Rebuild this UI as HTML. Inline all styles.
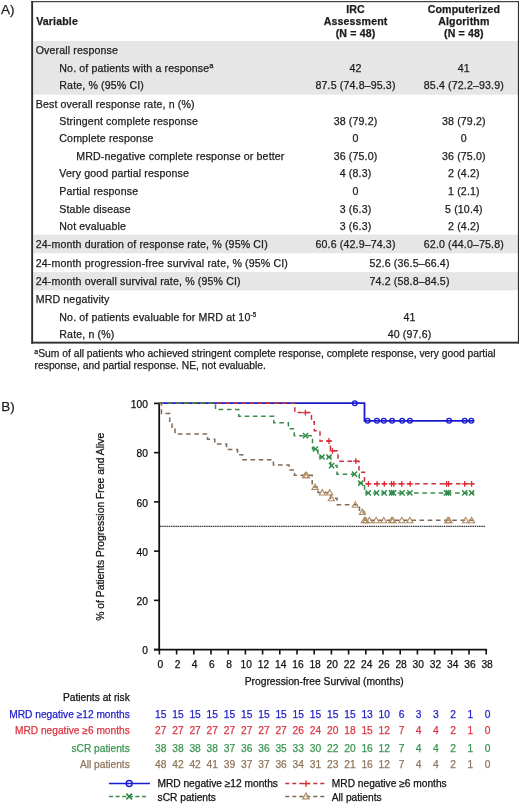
<!DOCTYPE html>
<html><head><meta charset="utf-8"><style>
html,body{margin:0;padding:0;background:#fff;}
body{width:520px;height:804px;overflow:hidden;}
svg{display:block;font-family:"Liberation Sans", sans-serif;will-change:transform;filter:blur(0.3px);}
text{stroke:currentColor;stroke-width:0.25px;}
</style></head><body>
<svg width="520" height="804" viewBox="0 0 520 804">
<rect width="520" height="804" fill="#fff"/>
<text x="0.9" y="13.9" font-size="13.5" text-anchor="start" fill="#1c1c1c" style="color:#1c1c1c">A)</text>
<rect x="33.4" y="41.0" width="484.6" height="53.70" fill="#e6e6e6"/>
<rect x="33.4" y="234.6" width="484.6" height="18.70" fill="#e6e6e6"/>
<rect x="33.4" y="272.1" width="484.6" height="18.30" fill="#e6e6e6"/>
<rect x="31.2" y="1.1" width="487.7" height="1.1" fill="#2e2e2e"/>
<rect x="517.9" y="1.1" width="1.1" height="342.5" fill="#2e2e2e"/>
<rect x="31.2" y="1.1" width="1.9" height="342.5" fill="#2e2e2e"/>
<rect x="31.2" y="341.7" width="487.7" height="1.9" fill="#2e2e2e"/>
<text x="36.2" y="24.9" font-size="10.6" text-anchor="start" fill="#1c1c1c" style="color:#1c1c1c" font-weight="bold" letter-spacing="0.145">Variable</text>
<text x="355.57" y="12.6" font-size="10.6" text-anchor="middle" fill="#1c1c1c" style="color:#1c1c1c" font-weight="bold" letter-spacing="0.145">IRC</text>
<text x="355.57" y="24.799999999999997" font-size="10.6" text-anchor="middle" fill="#1c1c1c" style="color:#1c1c1c" font-weight="bold" letter-spacing="0.145">Assessment</text>
<text x="355.57" y="37.0" font-size="10.6" text-anchor="middle" fill="#1c1c1c" style="color:#1c1c1c" font-weight="bold" letter-spacing="0.145">(N = 48)</text>
<text x="463.87" y="12.6" font-size="10.6" text-anchor="middle" fill="#1c1c1c" style="color:#1c1c1c" font-weight="bold" letter-spacing="0.145">Computerized</text>
<text x="463.87" y="24.799999999999997" font-size="10.6" text-anchor="middle" fill="#1c1c1c" style="color:#1c1c1c" font-weight="bold" letter-spacing="0.145">Algorithm</text>
<text x="463.87" y="37.0" font-size="10.6" text-anchor="middle" fill="#1c1c1c" style="color:#1c1c1c" font-weight="bold" letter-spacing="0.145">(N = 48)</text>
<text x="35.7" y="53.9" font-size="10.6" text-anchor="start" fill="#1c1c1c" style="color:#1c1c1c" letter-spacing="0.145">Overall response</text>
<text x="59.3" y="71.5" font-size="10.6" text-anchor="start" fill="#1c1c1c" style="color:#1c1c1c" letter-spacing="0.145">No. of patients with a response<tspan font-size="7.5" dy="-3.2">a</tspan></text>
<text x="355.57" y="71.5" font-size="10.6" text-anchor="middle" fill="#1c1c1c" style="color:#1c1c1c" letter-spacing="0.145">42</text>
<text x="463.87" y="71.5" font-size="10.6" text-anchor="middle" fill="#1c1c1c" style="color:#1c1c1c" letter-spacing="0.145">41</text>
<text x="59.3" y="89.2" font-size="10.6" text-anchor="start" fill="#1c1c1c" style="color:#1c1c1c" letter-spacing="0.145">Rate, % (95% CI)</text>
<text x="355.57" y="89.2" font-size="10.6" text-anchor="middle" fill="#1c1c1c" style="color:#1c1c1c" letter-spacing="0.145">87.5 (74.8–95.3)</text>
<text x="463.87" y="89.2" font-size="10.6" text-anchor="middle" fill="#1c1c1c" style="color:#1c1c1c" letter-spacing="0.145">85.4 (72.2–93.9)</text>
<text x="35.7" y="107.5" font-size="10.6" text-anchor="start" fill="#1c1c1c" style="color:#1c1c1c" letter-spacing="0.145">Best overall response rate, n (%)</text>
<text x="59.3" y="124.9" font-size="10.6" text-anchor="start" fill="#1c1c1c" style="color:#1c1c1c" letter-spacing="0.145">Stringent complete response</text>
<text x="355.57" y="124.9" font-size="10.6" text-anchor="middle" fill="#1c1c1c" style="color:#1c1c1c" letter-spacing="0.145">38 (79.2)</text>
<text x="463.87" y="124.9" font-size="10.6" text-anchor="middle" fill="#1c1c1c" style="color:#1c1c1c" letter-spacing="0.145">38 (79.2)</text>
<text x="59.3" y="142.3" font-size="10.6" text-anchor="start" fill="#1c1c1c" style="color:#1c1c1c" letter-spacing="0.145">Complete response</text>
<text x="355.57" y="142.3" font-size="10.6" text-anchor="middle" fill="#1c1c1c" style="color:#1c1c1c" letter-spacing="0.145">0</text>
<text x="463.87" y="142.3" font-size="10.6" text-anchor="middle" fill="#1c1c1c" style="color:#1c1c1c" letter-spacing="0.145">0</text>
<text x="76.2" y="159.9" font-size="10.6" text-anchor="start" fill="#1c1c1c" style="color:#1c1c1c" letter-spacing="0.145">MRD-negative complete response or better</text>
<text x="355.57" y="159.9" font-size="10.6" text-anchor="middle" fill="#1c1c1c" style="color:#1c1c1c" letter-spacing="0.145">36 (75.0)</text>
<text x="463.87" y="159.9" font-size="10.6" text-anchor="middle" fill="#1c1c1c" style="color:#1c1c1c" letter-spacing="0.145">36 (75.0)</text>
<text x="59.3" y="177.3" font-size="10.6" text-anchor="start" fill="#1c1c1c" style="color:#1c1c1c" letter-spacing="0.145">Very good partial response</text>
<text x="355.57" y="177.3" font-size="10.6" text-anchor="middle" fill="#1c1c1c" style="color:#1c1c1c" letter-spacing="0.145">4 (8.3)</text>
<text x="463.87" y="177.3" font-size="10.6" text-anchor="middle" fill="#1c1c1c" style="color:#1c1c1c" letter-spacing="0.145">2 (4.2)</text>
<text x="59.3" y="194.9" font-size="10.6" text-anchor="start" fill="#1c1c1c" style="color:#1c1c1c" letter-spacing="0.145">Partial response</text>
<text x="355.57" y="194.9" font-size="10.6" text-anchor="middle" fill="#1c1c1c" style="color:#1c1c1c" letter-spacing="0.145">0</text>
<text x="463.87" y="194.9" font-size="10.6" text-anchor="middle" fill="#1c1c1c" style="color:#1c1c1c" letter-spacing="0.145">1 (2.1)</text>
<text x="59.3" y="212.5" font-size="10.6" text-anchor="start" fill="#1c1c1c" style="color:#1c1c1c" letter-spacing="0.145">Stable disease</text>
<text x="355.57" y="212.5" font-size="10.6" text-anchor="middle" fill="#1c1c1c" style="color:#1c1c1c" letter-spacing="0.145">3 (6.3)</text>
<text x="463.87" y="212.5" font-size="10.6" text-anchor="middle" fill="#1c1c1c" style="color:#1c1c1c" letter-spacing="0.145">5 (10.4)</text>
<text x="59.3" y="230.0" font-size="10.6" text-anchor="start" fill="#1c1c1c" style="color:#1c1c1c" letter-spacing="0.145">Not evaluable</text>
<text x="355.57" y="230.0" font-size="10.6" text-anchor="middle" fill="#1c1c1c" style="color:#1c1c1c" letter-spacing="0.145">3 (6.3)</text>
<text x="463.87" y="230.0" font-size="10.6" text-anchor="middle" fill="#1c1c1c" style="color:#1c1c1c" letter-spacing="0.145">2 (4.2)</text>
<text x="35.7" y="248.2" font-size="10.6" text-anchor="start" fill="#1c1c1c" style="color:#1c1c1c" letter-spacing="0.145">24-month duration of response rate, % (95% CI)</text>
<text x="355.57" y="248.2" font-size="10.6" text-anchor="middle" fill="#1c1c1c" style="color:#1c1c1c" letter-spacing="0.145">60.6 (42.9–74.3)</text>
<text x="463.87" y="248.2" font-size="10.6" text-anchor="middle" fill="#1c1c1c" style="color:#1c1c1c" letter-spacing="0.145">62.0 (44.0–75.8)</text>
<text x="35.7" y="266.5" font-size="10.6" text-anchor="start" fill="#1c1c1c" style="color:#1c1c1c" letter-spacing="0.145">24-month progression-free survival rate, % (95% CI)</text>
<text x="409.57" y="266.5" font-size="10.6" text-anchor="middle" fill="#1c1c1c" style="color:#1c1c1c" letter-spacing="0.145">52.6 (36.5–66.4)</text>
<text x="35.7" y="284.8" font-size="10.6" text-anchor="start" fill="#1c1c1c" style="color:#1c1c1c" letter-spacing="0.145">24-month overall survival rate, % (95% CI)</text>
<text x="409.57" y="284.8" font-size="10.6" text-anchor="middle" fill="#1c1c1c" style="color:#1c1c1c" letter-spacing="0.145">74.2 (58.8–84.5)</text>
<text x="35.7" y="303.1" font-size="10.6" text-anchor="start" fill="#1c1c1c" style="color:#1c1c1c" letter-spacing="0.145">MRD negativity</text>
<text x="59.3" y="320.8" font-size="10.6" text-anchor="start" fill="#1c1c1c" style="color:#1c1c1c" letter-spacing="0.145">No. of patients evaluable for MRD at 10<tspan font-size="6.3" dy="-4.3">-5</tspan></text>
<text x="409.57" y="320.8" font-size="10.6" text-anchor="middle" fill="#1c1c1c" style="color:#1c1c1c" letter-spacing="0.145">41</text>
<text x="59.3" y="338.3" font-size="10.6" text-anchor="start" fill="#1c1c1c" style="color:#1c1c1c" letter-spacing="0.145">Rate, n (%)</text>
<text x="409.57" y="338.3" font-size="10.6" text-anchor="middle" fill="#1c1c1c" style="color:#1c1c1c" letter-spacing="0.145">40 (97.6)</text>
<text x="34.3" y="357.0" font-size="10.31" text-anchor="start" fill="#1c1c1c" style="color:#1c1c1c"><tspan font-size="7" dy="-3">a</tspan><tspan dy="3">Sum of all patients who achieved stringent complete response, complete response, very good partial</tspan></text>
<text x="34.6" y="368.8" font-size="10.31" text-anchor="start" fill="#1c1c1c" style="color:#1c1c1c">response, and partial response. NE, not evaluable.</text>
<text x="1.3" y="411.4" font-size="13.5" text-anchor="start" fill="#1c1c1c" style="color:#1c1c1c">B)</text>
<line x1="159.2" y1="402.60" x2="159.2" y2="650.50" stroke="#111" stroke-width="1.8"/>
<line x1="154" y1="649.6" x2="487.10" y2="649.6" stroke="#111" stroke-width="1.8"/>
<line x1="154" y1="649.60" x2="159.5" y2="649.60" stroke="#111" stroke-width="1.6"/>
<text x="147.9" y="654.30" font-size="10.21" text-anchor="end" fill="#111" style="color:#111">0</text>
<line x1="154" y1="600.36" x2="159.5" y2="600.36" stroke="#111" stroke-width="1.6"/>
<text x="147.9" y="605.06" font-size="10.21" text-anchor="end" fill="#111" style="color:#111">20</text>
<line x1="154" y1="551.12" x2="159.5" y2="551.12" stroke="#111" stroke-width="1.6"/>
<text x="147.9" y="555.82" font-size="10.21" text-anchor="end" fill="#111" style="color:#111">40</text>
<line x1="154" y1="501.88" x2="159.5" y2="501.88" stroke="#111" stroke-width="1.6"/>
<text x="147.9" y="506.58" font-size="10.21" text-anchor="end" fill="#111" style="color:#111">60</text>
<line x1="154" y1="452.64" x2="159.5" y2="452.64" stroke="#111" stroke-width="1.6"/>
<text x="147.9" y="457.34" font-size="10.21" text-anchor="end" fill="#111" style="color:#111">80</text>
<line x1="154" y1="403.40" x2="159.5" y2="403.40" stroke="#111" stroke-width="1.6"/>
<text x="147.9" y="408.10" font-size="10.21" text-anchor="end" fill="#111" style="color:#111">100</text>
<line x1="159.40" y1="649.6" x2="159.40" y2="654.5" stroke="#111" stroke-width="1.6"/>
<text x="160.30" y="667.7" font-size="10.21" text-anchor="middle" fill="#111" style="color:#111">0</text>
<line x1="176.60" y1="649.6" x2="176.60" y2="654.5" stroke="#111" stroke-width="1.6"/>
<text x="177.50" y="667.7" font-size="10.21" text-anchor="middle" fill="#111" style="color:#111">2</text>
<line x1="193.80" y1="649.6" x2="193.80" y2="654.5" stroke="#111" stroke-width="1.6"/>
<text x="194.70" y="667.7" font-size="10.21" text-anchor="middle" fill="#111" style="color:#111">4</text>
<line x1="211.00" y1="649.6" x2="211.00" y2="654.5" stroke="#111" stroke-width="1.6"/>
<text x="211.90" y="667.7" font-size="10.21" text-anchor="middle" fill="#111" style="color:#111">6</text>
<line x1="228.20" y1="649.6" x2="228.20" y2="654.5" stroke="#111" stroke-width="1.6"/>
<text x="229.10" y="667.7" font-size="10.21" text-anchor="middle" fill="#111" style="color:#111">8</text>
<line x1="245.40" y1="649.6" x2="245.40" y2="654.5" stroke="#111" stroke-width="1.6"/>
<text x="246.30" y="667.7" font-size="10.21" text-anchor="middle" fill="#111" style="color:#111">10</text>
<line x1="262.60" y1="649.6" x2="262.60" y2="654.5" stroke="#111" stroke-width="1.6"/>
<text x="263.50" y="667.7" font-size="10.21" text-anchor="middle" fill="#111" style="color:#111">12</text>
<line x1="279.80" y1="649.6" x2="279.80" y2="654.5" stroke="#111" stroke-width="1.6"/>
<text x="280.70" y="667.7" font-size="10.21" text-anchor="middle" fill="#111" style="color:#111">14</text>
<line x1="297.00" y1="649.6" x2="297.00" y2="654.5" stroke="#111" stroke-width="1.6"/>
<text x="297.90" y="667.7" font-size="10.21" text-anchor="middle" fill="#111" style="color:#111">16</text>
<line x1="314.20" y1="649.6" x2="314.20" y2="654.5" stroke="#111" stroke-width="1.6"/>
<text x="315.10" y="667.7" font-size="10.21" text-anchor="middle" fill="#111" style="color:#111">18</text>
<line x1="331.40" y1="649.6" x2="331.40" y2="654.5" stroke="#111" stroke-width="1.6"/>
<text x="332.30" y="667.7" font-size="10.21" text-anchor="middle" fill="#111" style="color:#111">20</text>
<line x1="348.60" y1="649.6" x2="348.60" y2="654.5" stroke="#111" stroke-width="1.6"/>
<text x="349.50" y="667.7" font-size="10.21" text-anchor="middle" fill="#111" style="color:#111">22</text>
<line x1="365.80" y1="649.6" x2="365.80" y2="654.5" stroke="#111" stroke-width="1.6"/>
<text x="366.70" y="667.7" font-size="10.21" text-anchor="middle" fill="#111" style="color:#111">24</text>
<line x1="383.00" y1="649.6" x2="383.00" y2="654.5" stroke="#111" stroke-width="1.6"/>
<text x="383.90" y="667.7" font-size="10.21" text-anchor="middle" fill="#111" style="color:#111">26</text>
<line x1="400.20" y1="649.6" x2="400.20" y2="654.5" stroke="#111" stroke-width="1.6"/>
<text x="401.10" y="667.7" font-size="10.21" text-anchor="middle" fill="#111" style="color:#111">28</text>
<line x1="417.40" y1="649.6" x2="417.40" y2="654.5" stroke="#111" stroke-width="1.6"/>
<text x="418.30" y="667.7" font-size="10.21" text-anchor="middle" fill="#111" style="color:#111">30</text>
<line x1="434.60" y1="649.6" x2="434.60" y2="654.5" stroke="#111" stroke-width="1.6"/>
<text x="435.50" y="667.7" font-size="10.21" text-anchor="middle" fill="#111" style="color:#111">32</text>
<line x1="451.80" y1="649.6" x2="451.80" y2="654.5" stroke="#111" stroke-width="1.6"/>
<text x="452.70" y="667.7" font-size="10.21" text-anchor="middle" fill="#111" style="color:#111">34</text>
<line x1="469.00" y1="649.6" x2="469.00" y2="654.5" stroke="#111" stroke-width="1.6"/>
<text x="469.90" y="667.7" font-size="10.21" text-anchor="middle" fill="#111" style="color:#111">36</text>
<line x1="486.20" y1="649.6" x2="486.20" y2="654.5" stroke="#111" stroke-width="1.6"/>
<text x="487.10" y="667.7" font-size="10.21" text-anchor="middle" fill="#111" style="color:#111">38</text>
<text x="324.2" y="685.4" font-size="10.3" text-anchor="middle" fill="#111" style="color:#111">Progression-free Survival (months)</text>
<text x="0.15" y="0" font-size="10.35" text-anchor="middle" fill="#111" style="color:#111" transform="translate(104.3 527) rotate(-90)">% of Patients Progression Free and Alive</text>
<line x1="160" y1="526.3" x2="485.6" y2="526.3" stroke="#111" stroke-width="1" stroke-dasharray="1.6 0.6"/>
<path d="M159.4,403.2H364.5V420.8H474.2" fill="none" stroke="#1a1ad0" stroke-width="1.8"/>
<circle cx="354.8" cy="403.2" r="2.4" fill="none" stroke="#1a1ad0" stroke-width="1.3"/>
<circle cx="367.6" cy="420.8" r="2.4" fill="none" stroke="#1a1ad0" stroke-width="1.3"/>
<circle cx="377" cy="420.8" r="2.4" fill="none" stroke="#1a1ad0" stroke-width="1.3"/>
<circle cx="383.8" cy="420.8" r="2.4" fill="none" stroke="#1a1ad0" stroke-width="1.3"/>
<circle cx="392.1" cy="420.8" r="2.4" fill="none" stroke="#1a1ad0" stroke-width="1.3"/>
<circle cx="402.2" cy="420.8" r="2.4" fill="none" stroke="#1a1ad0" stroke-width="1.3"/>
<circle cx="409.9" cy="420.8" r="2.4" fill="none" stroke="#1a1ad0" stroke-width="1.3"/>
<circle cx="449.1" cy="420.8" r="2.4" fill="none" stroke="#1a1ad0" stroke-width="1.3"/>
<circle cx="464.7" cy="420.8" r="2.4" fill="none" stroke="#1a1ad0" stroke-width="1.3"/>
<circle cx="471.3" cy="420.8" r="2.4" fill="none" stroke="#1a1ad0" stroke-width="1.3"/>
<path d="M159.4,403.2H294.8V412.6H311.5V421.7H314.3V430.8H320V441H330.4V450.8H338V461.2H359V472.2H364.5V483.8H474.2" fill="none" stroke="#c8303c" stroke-width="1.5" stroke-dasharray="4.6 3.6"/>
<path d="M302.50,412.6H308.30M305.4,409.70V415.50" stroke="#e02834" stroke-width="1.3"/>
<path d="M326.10,441H331.90M329,438.10V443.90" stroke="#e02834" stroke-width="1.3"/>
<path d="M329.50,450.8H335.30M332.4,447.90V453.70" stroke="#e02834" stroke-width="1.3"/>
<path d="M352.90,461.2H358.70M355.8,458.30V464.10" stroke="#e02834" stroke-width="1.3"/>
<path d="M365.50,483.8H371.30M368.4,480.90V486.70" stroke="#e02834" stroke-width="1.3"/>
<path d="M374.20,483.8H380.00M377.1,480.90V486.70" stroke="#e02834" stroke-width="1.3"/>
<path d="M381.40,483.8H387.20M384.3,480.90V486.70" stroke="#e02834" stroke-width="1.3"/>
<path d="M388.60,483.8H394.40M391.5,480.90V486.70" stroke="#e02834" stroke-width="1.3"/>
<path d="M390.90,483.8H396.70M393.8,480.90V486.70" stroke="#e02834" stroke-width="1.3"/>
<path d="M398.90,483.8H404.70M401.8,480.90V486.70" stroke="#e02834" stroke-width="1.3"/>
<path d="M407.30,483.8H413.10M410.2,480.90V486.70" stroke="#e02834" stroke-width="1.3"/>
<path d="M443.60,483.8H449.40M446.5,480.90V486.70" stroke="#e02834" stroke-width="1.3"/>
<path d="M445.60,483.8H451.40M448.5,480.90V486.70" stroke="#e02834" stroke-width="1.3"/>
<path d="M461.80,483.8H467.60M464.7,480.90V486.70" stroke="#e02834" stroke-width="1.3"/>
<path d="M468.70,483.8H474.50M471.6,480.90V486.70" stroke="#e02834" stroke-width="1.3"/>
<path d="M159.4,403.2H215.5V409.5H238.7V416.3H273.8V422.7H288.4V428.8H294.3V435.7H312.5V449H318V457H330.7V465.6H337V474.2H359.2V483.2H364.5V492.9H474.2" fill="none" stroke="#3a8a4a" stroke-width="1.5" stroke-dasharray="4.6 3.6"/>
<path d="M303.00,433.10L308.20,438.30M303.00,438.30L308.20,433.10" stroke="#2a8a44" stroke-width="1.4"/>
<path d="M312.80,446.40L318.00,451.60M312.80,451.60L318.00,446.40" stroke="#2a8a44" stroke-width="1.4"/>
<path d="M319.40,454.40L324.60,459.60M319.40,459.60L324.60,454.40" stroke="#2a8a44" stroke-width="1.4"/>
<path d="M326.40,454.40L331.60,459.60M326.40,459.60L331.60,454.40" stroke="#2a8a44" stroke-width="1.4"/>
<path d="M329.00,463.00L334.20,468.20M329.00,468.20L334.20,463.00" stroke="#2a8a44" stroke-width="1.4"/>
<path d="M351.90,471.60L357.10,476.80M351.90,476.80L357.10,471.60" stroke="#2a8a44" stroke-width="1.4"/>
<path d="M358.20,480.60L363.40,485.80M358.20,485.80L363.40,480.60" stroke="#2a8a44" stroke-width="1.4"/>
<path d="M365.60,490.30L370.80,495.50M365.60,495.50L370.80,490.30" stroke="#2a8a44" stroke-width="1.4"/>
<path d="M374.00,490.30L379.20,495.50M374.00,495.50L379.20,490.30" stroke="#2a8a44" stroke-width="1.4"/>
<path d="M381.60,490.30L386.80,495.50M381.60,495.50L386.80,490.30" stroke="#2a8a44" stroke-width="1.4"/>
<path d="M388.90,490.30L394.10,495.50M388.90,495.50L394.10,490.30" stroke="#2a8a44" stroke-width="1.4"/>
<path d="M390.90,490.30L396.10,495.50M390.90,495.50L396.10,490.30" stroke="#2a8a44" stroke-width="1.4"/>
<path d="M399.50,490.30L404.70,495.50M399.50,495.50L404.70,490.30" stroke="#2a8a44" stroke-width="1.4"/>
<path d="M407.30,490.30L412.50,495.50M407.30,495.50L412.50,490.30" stroke="#2a8a44" stroke-width="1.4"/>
<path d="M443.90,490.30L449.10,495.50M443.90,495.50L449.10,490.30" stroke="#2a8a44" stroke-width="1.4"/>
<path d="M445.90,490.30L451.10,495.50M445.90,495.50L451.10,490.30" stroke="#2a8a44" stroke-width="1.4"/>
<path d="M462.10,490.30L467.30,495.50M462.10,495.50L467.30,490.30" stroke="#2a8a44" stroke-width="1.4"/>
<path d="M469.00,490.30L474.20,495.50M469.00,495.50L474.20,490.30" stroke="#2a8a44" stroke-width="1.4"/>
<path d="M159.4,403.2H161.5V413.5H169.7V423.9H172V429.1H175V433.9H207.5V439.2H214.8V444.1H226.6V449.6H237.5V454.7H242.6V459.7H273.4V465H289V470H294.5V475.3H312.2V487H318V492.6H330.6V498.3H337V504.8H359.5V512H364.5V520.3H474.2" fill="none" stroke="#7e6a56" stroke-width="1.5" stroke-dasharray="4.6 3.6"/>
<path d="M302.30,477.73L305.40,472.33L308.50,477.73Z" fill="none" stroke="#b08c62" stroke-width="1.15" stroke-linejoin="miter"/>
<path d="M303.50,477.73L306.60,472.33L309.70,477.73Z" fill="none" stroke="#b08c62" stroke-width="1.15" stroke-linejoin="miter"/>
<path d="M311.90,489.43L315.00,484.03L318.10,489.43Z" fill="none" stroke="#b08c62" stroke-width="1.15" stroke-linejoin="miter"/>
<path d="M319.20,495.03L322.30,489.63L325.40,495.03Z" fill="none" stroke="#b08c62" stroke-width="1.15" stroke-linejoin="miter"/>
<path d="M326.60,495.03L329.70,489.63L332.80,495.03Z" fill="none" stroke="#b08c62" stroke-width="1.15" stroke-linejoin="miter"/>
<path d="M328.20,500.73L331.30,495.33L334.40,500.73Z" fill="none" stroke="#b08c62" stroke-width="1.15" stroke-linejoin="miter"/>
<path d="M352.10,507.23L355.20,501.83L358.30,507.23Z" fill="none" stroke="#b08c62" stroke-width="1.15" stroke-linejoin="miter"/>
<path d="M359.30,514.43L362.40,509.03L365.50,514.43Z" fill="none" stroke="#b08c62" stroke-width="1.15" stroke-linejoin="miter"/>
<path d="M361.30,522.73L364.40,517.33L367.50,522.73Z" fill="none" stroke="#b08c62" stroke-width="1.15" stroke-linejoin="miter"/>
<path d="M362.70,522.73L365.80,517.33L368.90,522.73Z" fill="none" stroke="#b08c62" stroke-width="1.15" stroke-linejoin="miter"/>
<path d="M366.30,522.73L369.40,517.33L372.50,522.73Z" fill="none" stroke="#b08c62" stroke-width="1.15" stroke-linejoin="miter"/>
<path d="M373.10,522.73L376.20,517.33L379.30,522.73Z" fill="none" stroke="#b08c62" stroke-width="1.15" stroke-linejoin="miter"/>
<path d="M380.70,522.73L383.80,517.33L386.90,522.73Z" fill="none" stroke="#b08c62" stroke-width="1.15" stroke-linejoin="miter"/>
<path d="M388.60,522.73L391.70,517.33L394.80,522.73Z" fill="none" stroke="#b08c62" stroke-width="1.15" stroke-linejoin="miter"/>
<path d="M389.80,522.73L392.90,517.33L396.00,522.73Z" fill="none" stroke="#b08c62" stroke-width="1.15" stroke-linejoin="miter"/>
<path d="M398.70,522.73L401.80,517.33L404.90,522.73Z" fill="none" stroke="#b08c62" stroke-width="1.15" stroke-linejoin="miter"/>
<path d="M406.70,522.73L409.80,517.33L412.90,522.73Z" fill="none" stroke="#b08c62" stroke-width="1.15" stroke-linejoin="miter"/>
<path d="M444.70,522.73L447.80,517.33L450.90,522.73Z" fill="none" stroke="#b08c62" stroke-width="1.15" stroke-linejoin="miter"/>
<path d="M445.90,522.73L449.00,517.33L452.10,522.73Z" fill="none" stroke="#b08c62" stroke-width="1.15" stroke-linejoin="miter"/>
<path d="M462.50,522.73L465.60,517.33L468.70,522.73Z" fill="none" stroke="#b08c62" stroke-width="1.15" stroke-linejoin="miter"/>
<path d="M468.50,522.73L471.60,517.33L474.70,522.73Z" fill="none" stroke="#b08c62" stroke-width="1.15" stroke-linejoin="miter"/>
<text x="129.8" y="701.3" font-size="10.2" text-anchor="end" fill="#111" style="color:#111">Patients at risk</text>
<text x="129.8" y="717.9" font-size="10.2" text-anchor="end" fill="#1e1ec8" style="color:#1e1ec8">MRD negative ≥12 months</text>
<text x="160.70" y="717.9" font-size="10.21" text-anchor="middle" fill="#1e1ec8" style="color:#1e1ec8">15</text>
<text x="177.90" y="717.9" font-size="10.21" text-anchor="middle" fill="#1e1ec8" style="color:#1e1ec8">15</text>
<text x="195.10" y="717.9" font-size="10.21" text-anchor="middle" fill="#1e1ec8" style="color:#1e1ec8">15</text>
<text x="212.30" y="717.9" font-size="10.21" text-anchor="middle" fill="#1e1ec8" style="color:#1e1ec8">15</text>
<text x="229.50" y="717.9" font-size="10.21" text-anchor="middle" fill="#1e1ec8" style="color:#1e1ec8">15</text>
<text x="246.70" y="717.9" font-size="10.21" text-anchor="middle" fill="#1e1ec8" style="color:#1e1ec8">15</text>
<text x="263.90" y="717.9" font-size="10.21" text-anchor="middle" fill="#1e1ec8" style="color:#1e1ec8">15</text>
<text x="281.10" y="717.9" font-size="10.21" text-anchor="middle" fill="#1e1ec8" style="color:#1e1ec8">15</text>
<text x="298.30" y="717.9" font-size="10.21" text-anchor="middle" fill="#1e1ec8" style="color:#1e1ec8">15</text>
<text x="315.50" y="717.9" font-size="10.21" text-anchor="middle" fill="#1e1ec8" style="color:#1e1ec8">15</text>
<text x="332.70" y="717.9" font-size="10.21" text-anchor="middle" fill="#1e1ec8" style="color:#1e1ec8">15</text>
<text x="349.90" y="717.9" font-size="10.21" text-anchor="middle" fill="#1e1ec8" style="color:#1e1ec8">15</text>
<text x="367.10" y="717.9" font-size="10.21" text-anchor="middle" fill="#1e1ec8" style="color:#1e1ec8">13</text>
<text x="384.30" y="717.9" font-size="10.21" text-anchor="middle" fill="#1e1ec8" style="color:#1e1ec8">10</text>
<text x="401.50" y="717.9" font-size="10.21" text-anchor="middle" fill="#1e1ec8" style="color:#1e1ec8">6</text>
<text x="418.70" y="717.9" font-size="10.21" text-anchor="middle" fill="#1e1ec8" style="color:#1e1ec8">3</text>
<text x="435.90" y="717.9" font-size="10.21" text-anchor="middle" fill="#1e1ec8" style="color:#1e1ec8">3</text>
<text x="453.10" y="717.9" font-size="10.21" text-anchor="middle" fill="#1e1ec8" style="color:#1e1ec8">2</text>
<text x="470.30" y="717.9" font-size="10.21" text-anchor="middle" fill="#1e1ec8" style="color:#1e1ec8">1</text>
<text x="487.50" y="717.9" font-size="10.21" text-anchor="middle" fill="#1e1ec8" style="color:#1e1ec8">0</text>
<text x="129.8" y="734.4" font-size="10.2" text-anchor="end" fill="#dc3540" style="color:#dc3540">MRD negative ≥6 months</text>
<text x="160.70" y="734.4" font-size="10.21" text-anchor="middle" fill="#dc3540" style="color:#dc3540">27</text>
<text x="177.90" y="734.4" font-size="10.21" text-anchor="middle" fill="#dc3540" style="color:#dc3540">27</text>
<text x="195.10" y="734.4" font-size="10.21" text-anchor="middle" fill="#dc3540" style="color:#dc3540">27</text>
<text x="212.30" y="734.4" font-size="10.21" text-anchor="middle" fill="#dc3540" style="color:#dc3540">27</text>
<text x="229.50" y="734.4" font-size="10.21" text-anchor="middle" fill="#dc3540" style="color:#dc3540">27</text>
<text x="246.70" y="734.4" font-size="10.21" text-anchor="middle" fill="#dc3540" style="color:#dc3540">27</text>
<text x="263.90" y="734.4" font-size="10.21" text-anchor="middle" fill="#dc3540" style="color:#dc3540">27</text>
<text x="281.10" y="734.4" font-size="10.21" text-anchor="middle" fill="#dc3540" style="color:#dc3540">27</text>
<text x="298.30" y="734.4" font-size="10.21" text-anchor="middle" fill="#dc3540" style="color:#dc3540">26</text>
<text x="315.50" y="734.4" font-size="10.21" text-anchor="middle" fill="#dc3540" style="color:#dc3540">24</text>
<text x="332.70" y="734.4" font-size="10.21" text-anchor="middle" fill="#dc3540" style="color:#dc3540">20</text>
<text x="349.90" y="734.4" font-size="10.21" text-anchor="middle" fill="#dc3540" style="color:#dc3540">18</text>
<text x="367.10" y="734.4" font-size="10.21" text-anchor="middle" fill="#dc3540" style="color:#dc3540">15</text>
<text x="384.30" y="734.4" font-size="10.21" text-anchor="middle" fill="#dc3540" style="color:#dc3540">12</text>
<text x="401.50" y="734.4" font-size="10.21" text-anchor="middle" fill="#dc3540" style="color:#dc3540">7</text>
<text x="418.70" y="734.4" font-size="10.21" text-anchor="middle" fill="#dc3540" style="color:#dc3540">4</text>
<text x="435.90" y="734.4" font-size="10.21" text-anchor="middle" fill="#dc3540" style="color:#dc3540">4</text>
<text x="453.10" y="734.4" font-size="10.21" text-anchor="middle" fill="#dc3540" style="color:#dc3540">2</text>
<text x="470.30" y="734.4" font-size="10.21" text-anchor="middle" fill="#dc3540" style="color:#dc3540">1</text>
<text x="487.50" y="734.4" font-size="10.21" text-anchor="middle" fill="#dc3540" style="color:#dc3540">0</text>
<text x="129.8" y="751.6" font-size="10.2" text-anchor="end" fill="#3a9650" style="color:#3a9650">sCR patients</text>
<text x="160.70" y="751.6" font-size="10.21" text-anchor="middle" fill="#3a9650" style="color:#3a9650">38</text>
<text x="177.90" y="751.6" font-size="10.21" text-anchor="middle" fill="#3a9650" style="color:#3a9650">38</text>
<text x="195.10" y="751.6" font-size="10.21" text-anchor="middle" fill="#3a9650" style="color:#3a9650">38</text>
<text x="212.30" y="751.6" font-size="10.21" text-anchor="middle" fill="#3a9650" style="color:#3a9650">38</text>
<text x="229.50" y="751.6" font-size="10.21" text-anchor="middle" fill="#3a9650" style="color:#3a9650">37</text>
<text x="246.70" y="751.6" font-size="10.21" text-anchor="middle" fill="#3a9650" style="color:#3a9650">36</text>
<text x="263.90" y="751.6" font-size="10.21" text-anchor="middle" fill="#3a9650" style="color:#3a9650">36</text>
<text x="281.10" y="751.6" font-size="10.21" text-anchor="middle" fill="#3a9650" style="color:#3a9650">35</text>
<text x="298.30" y="751.6" font-size="10.21" text-anchor="middle" fill="#3a9650" style="color:#3a9650">33</text>
<text x="315.50" y="751.6" font-size="10.21" text-anchor="middle" fill="#3a9650" style="color:#3a9650">30</text>
<text x="332.70" y="751.6" font-size="10.21" text-anchor="middle" fill="#3a9650" style="color:#3a9650">22</text>
<text x="349.90" y="751.6" font-size="10.21" text-anchor="middle" fill="#3a9650" style="color:#3a9650">20</text>
<text x="367.10" y="751.6" font-size="10.21" text-anchor="middle" fill="#3a9650" style="color:#3a9650">16</text>
<text x="384.30" y="751.6" font-size="10.21" text-anchor="middle" fill="#3a9650" style="color:#3a9650">12</text>
<text x="401.50" y="751.6" font-size="10.21" text-anchor="middle" fill="#3a9650" style="color:#3a9650">7</text>
<text x="418.70" y="751.6" font-size="10.21" text-anchor="middle" fill="#3a9650" style="color:#3a9650">4</text>
<text x="435.90" y="751.6" font-size="10.21" text-anchor="middle" fill="#3a9650" style="color:#3a9650">4</text>
<text x="453.10" y="751.6" font-size="10.21" text-anchor="middle" fill="#3a9650" style="color:#3a9650">2</text>
<text x="470.30" y="751.6" font-size="10.21" text-anchor="middle" fill="#3a9650" style="color:#3a9650">1</text>
<text x="487.50" y="751.6" font-size="10.21" text-anchor="middle" fill="#3a9650" style="color:#3a9650">0</text>
<text x="129.8" y="767.9" font-size="10.2" text-anchor="end" fill="#8e765c" style="color:#8e765c">All patients</text>
<text x="160.70" y="767.9" font-size="10.21" text-anchor="middle" fill="#8e765c" style="color:#8e765c">48</text>
<text x="177.90" y="767.9" font-size="10.21" text-anchor="middle" fill="#8e765c" style="color:#8e765c">42</text>
<text x="195.10" y="767.9" font-size="10.21" text-anchor="middle" fill="#8e765c" style="color:#8e765c">42</text>
<text x="212.30" y="767.9" font-size="10.21" text-anchor="middle" fill="#8e765c" style="color:#8e765c">41</text>
<text x="229.50" y="767.9" font-size="10.21" text-anchor="middle" fill="#8e765c" style="color:#8e765c">39</text>
<text x="246.70" y="767.9" font-size="10.21" text-anchor="middle" fill="#8e765c" style="color:#8e765c">37</text>
<text x="263.90" y="767.9" font-size="10.21" text-anchor="middle" fill="#8e765c" style="color:#8e765c">37</text>
<text x="281.10" y="767.9" font-size="10.21" text-anchor="middle" fill="#8e765c" style="color:#8e765c">36</text>
<text x="298.30" y="767.9" font-size="10.21" text-anchor="middle" fill="#8e765c" style="color:#8e765c">34</text>
<text x="315.50" y="767.9" font-size="10.21" text-anchor="middle" fill="#8e765c" style="color:#8e765c">31</text>
<text x="332.70" y="767.9" font-size="10.21" text-anchor="middle" fill="#8e765c" style="color:#8e765c">23</text>
<text x="349.90" y="767.9" font-size="10.21" text-anchor="middle" fill="#8e765c" style="color:#8e765c">21</text>
<text x="367.10" y="767.9" font-size="10.21" text-anchor="middle" fill="#8e765c" style="color:#8e765c">16</text>
<text x="384.30" y="767.9" font-size="10.21" text-anchor="middle" fill="#8e765c" style="color:#8e765c">12</text>
<text x="401.50" y="767.9" font-size="10.21" text-anchor="middle" fill="#8e765c" style="color:#8e765c">7</text>
<text x="418.70" y="767.9" font-size="10.21" text-anchor="middle" fill="#8e765c" style="color:#8e765c">4</text>
<text x="435.90" y="767.9" font-size="10.21" text-anchor="middle" fill="#8e765c" style="color:#8e765c">4</text>
<text x="453.10" y="767.9" font-size="10.21" text-anchor="middle" fill="#8e765c" style="color:#8e765c">2</text>
<text x="470.30" y="767.9" font-size="10.21" text-anchor="middle" fill="#8e765c" style="color:#8e765c">1</text>
<text x="487.50" y="767.9" font-size="10.21" text-anchor="middle" fill="#8e765c" style="color:#8e765c">0</text>
<path d="M108.9,783.5H150" fill="none" stroke="#1a1ad0" stroke-width="1.5"/>
<circle cx="129.2" cy="783.5" r="3.0" fill="none" stroke="#1a1ad0" stroke-width="1.4"/>
<text x="157.4" y="787.4" font-size="10.2" text-anchor="start" fill="#111" style="color:#111">MRD negative ≥12 months</text>
<path d="M285.3,783.6H324.5" fill="none" stroke="#c8303c" stroke-width="1.5" stroke-dasharray="4 3"/>
<path d="M302.90,783.6H309.10M306,780.50V786.70" stroke="#e02834" stroke-width="1.3"/>
<text x="331.8" y="787.4" font-size="10.2" text-anchor="start" fill="#111" style="color:#111">MRD negative ≥6 months</text>
<path d="M109,796.5H148" fill="none" stroke="#3a8a4a" stroke-width="1.5" stroke-dasharray="4 2.6"/>
<path d="M126.30,793.60L132.10,799.40M126.30,799.40L132.10,793.60" stroke="#2a8a44" stroke-width="1.6"/>
<text x="157.6" y="800.5" font-size="10.2" text-anchor="start" fill="#111" style="color:#111">sCR patients</text>
<path d="M285.3,796.4H324.5" fill="none" stroke="#7e6a56" stroke-width="1.5" stroke-dasharray="4 3"/>
<path d="M302.70,798.90L306.00,792.90L309.30,798.90Z" fill="none" stroke="#b08c62" stroke-width="1.15" stroke-linejoin="miter"/>
<text x="331.8" y="800.5" font-size="10.2" text-anchor="start" fill="#111" style="color:#111">All patients</text>
</svg>
</body></html>
